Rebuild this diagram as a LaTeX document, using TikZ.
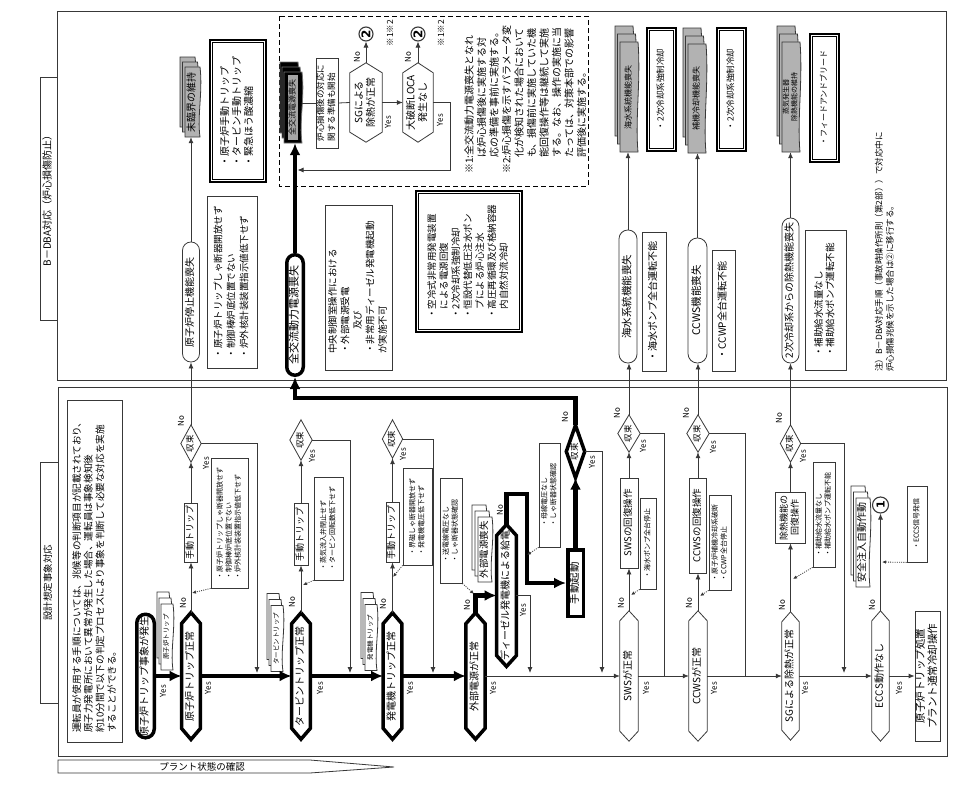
\documentclass[tikz,border=0pt]{standalone}
\usepackage{fontspec}
\setmainfont{Noto Sans CJK JP}
\newfontfamily\dvs{DejaVu Sans}
\usepackage{graphicx}
\usetikzlibrary{arrows.meta}
\definecolor{ln}{gray}{0.22}
\newcommand\fsz[2]{\fontsize{#1}{#2}\selectfont}
\newcommand\RT[2][c]{\rotatebox{90}{\begin{tabular}{@{}#1@{}}#2\end{tabular}}}
\newcommand\hexn[8]{%
  \node[minimum width=#5, minimum height=#6, inner sep=0pt] (#2) at (#3,#4) {#8};
  \draw[#1] (#2.north) -- ([yshift=-#7]#2.north east) -- ([yshift=#7]#2.south east) -- (#2.south) -- ([yshift=#7]#2.south west) -- ([yshift=-#7]#2.north west) -- cycle;}
\newcommand\dian[7]{%
  \node[minimum width=#5, minimum height=#6, inner sep=0pt] (#2) at (#3,#4) {#7};
  \draw[#1] (#2.north) -- (#2.east) -- (#2.south) -- (#2.west) -- cycle;}
% document page with wavy right edge: style, left x, top y, w, h
\newcommand\docpg[5]{%
  \draw[#1] (#2,#3) -- ({#2+#4},#3) .. controls ({#2+#4+3},{#3+0.35*#5}) and ({#2+#4-3},{#3+0.7*#5}) .. ({#2+#4},{#3+#5}) -- (#2,{#3+#5}) -- cycle;}
\newcommand\stk[9]{%
  \docpg{#1}{#3-#5/2-2*#7}{#4-#6/2-2*#8}{#5}{#6}
  \docpg{#1}{#3-#5/2-#7}{#4-#6/2-#8}{#5}{#6}
  \docpg{#1}{#3-#5/2}{#4-#6/2}{#5}{#6}
  \node[minimum width=#5, minimum height=#6, inner sep=0pt] (#2) at (#3,#4) {#9};}
\newcommand\dblin[1]{\draw[line width=0.7pt] ([shift={(3.3pt,-3.3pt)}]#1.north west) rectangle ([shift={(-3.3pt,3.3pt)}]#1.south east);}
\begin{document}
\begin{tikzpicture}[x=1pt, y=-1pt,
 base/.style={line width=0.8pt, draw=ln},
 hx/.style={line width=3.5pt, draw=black},
 thk/.style={line width=4.5pt, draw=black},
 tar/.style={-{Latex[length=6pt,width=5pt]}},
 Tar/.style={-{Latex[length=12pt,width=11pt]}},
 dots/.style={draw=ln, line width=0.8pt, dash pattern=on 1pt off 1.2pt, -{Latex[length=4pt,width=3.5pt]}},
 box/.style={draw=ln, line width=0.8pt, fill=white, inner sep=0pt},
 dbl/.style={draw=black, line width=2.2pt, fill=white, inner sep=0pt},
 stad/.style={box, rounded corners=#1},
 lbl/.style={rotate=90, inner sep=0pt, font=\fsz{8}{9}},
 circ/.style={circle, draw=ln, line width=1.1pt, inner sep=0pt, fill=white}]
\useasboundingbox (0,0) rectangle (954,787);
\fill[white] (0,0) rectangle (954,787);

% panels
\draw[base] (57,11) rectangle (946,380);
\draw[base] (58,387) rectangle (947,756);
\node[box, minimum width=17, minimum height=243, font=\fsz{10}{12}] (lblA) at (48.5,198.5) {\RT{B－DBA対応（炉心損傷防止）}};
\node[box, minimum width=18, minimum height=241, font=\fsz{9.5}{11}] (lblB) at (49,582.5) {\RT{設計想定事象対応}};
\draw[base] (58,760) -- (310,760) -- (394,767) -- (310,773) -- (58,773) -- cycle;
\node[font=\fsz{9.5}{11}, inner sep=0pt] (pst) at (202,767) {プラント状態の確認};

% intro text
\node[box, minimum width=55, minimum height=342] (intro) at (94.5,571) {};
\node[inner sep=0pt, anchor=south, font=\fsz{9.6}{11.7}] (introt) at (95.5,733) {\RT[l]{運転員が使用する手順については、兆候等の判断項目が記載されており、\\原子力発電所において異常が発生した場合、運転員は事象検知後\\約10分間で以下の判定プロセスにより事象を判断して必要な対応を実施\\することができる。}};

% ===== lower panel =====
\node[draw=black, line width=3.5pt, rounded corners=8.7pt, minimum width=17.5, minimum height=123.5, inner sep=0pt, fill=white, font=\fsz{10}{12}] (ev) at (145.5,676) {\RT{原子炉トリップ事象が発生}};

% reactor trip
\stk{base,fill=white}{s1}{167}{637}{12}{66}{2}{6}{\fsz{6.5}{8}\RT{原子炉トリップ}}
\hexn{hx}{h1}{191}{676}{18.5}{126.5}{11pt}{\fsz{10}{12}\RT{原子炉トリップ正常}}
\node[box, minimum width=13, minimum height=59, font=\fsz{9}{11}] (m1) at (191,532.5) {\RT{手動トリップ}};
\dian{base}{d1}{191}{443.5}{20}{37}{\fsz{8.5}{10}\RT{収束}}
\node[box, minimum width=37, minimum height=130, font=\fsz{7}{9}] (n1) at (229.5,523) {\RT[l]{・原子炉トリップしゃ断器開放せず\\・制御棒炉底位置でない\\・炉外核計装装置指示値低下せず}};
\coordinate (j1) at (257,673);
\coordinate (p1) at (192,593);

% turbine trip
\stk{base,fill=white}{s2}{277}{638.5}{12}{66}{2}{6}{\fsz{6.5}{8}\RT{タービントリップ}}
\hexn{hx}{h2}{301}{676}{18.5}{126}{11pt}{\fsz{10}{12}\RT{タービントリップ正常}}
\node[box, minimum width=14, minimum height=62, font=\fsz{9}{11}] (m2) at (301,534) {\RT{手動トリップ}};
\dian{base}{d2}{301}{440}{22}{40}{\fsz{8.5}{10}\RT{収束}}
\node[box, minimum width=29, minimum height=103, font=\fsz{7}{9}] (n2) at (328.5,528.5) {\RT[l]{・蒸気流入弁閉止せず\\・タービン回転数低下せず}};
\coordinate (j2) at (350,673);
\coordinate (p2) at (303,585);

% generator trip
\stk{base,fill=white}{s3}{371}{637.5}{12}{66}{2}{6}{\fsz{6.5}{8}\RT{発電機トリップ}}
\hexn{hx}{h3}{392.5}{676}{18.5}{126}{11pt}{\fsz{10}{12}\RT{発電機トリップ正常}}
\node[box, minimum width=13, minimum height=60, font=\fsz{9}{11}] (m3) at (392.5,532) {\RT{手動トリップ}};
\dian{base}{d3}{392.5}{439}{20}{38}{\fsz{8.5}{10}\RT{収束}}
\node[box, minimum width=29, minimum height=97, font=\fsz{7}{9}] (n3) at (417.5,516.5) {\RT[l]{・界磁しゃ断器開放せず\\・発電機電圧低下せず}};
\coordinate (j3) at (433,673);
\coordinate (p3) at (393,577);

% off-site power
\hexn{hx}{h4}{475.5}{676}{19}{126}{11pt}{\fsz{10}{12}\RT{外部電源が正常}}
\stk{base,fill=white}{s4}{485}{549.5}{14}{65}{3}{6}{\fsz{9.5}{11}\RT{外部電源喪失}}
\node[box, minimum width=22, minimum height=105, font=\fsz{7}{9}] (n4) at (451,530.5) {\RT[l]{・送電線電圧なし\\・しゃ断器状態確認}};
\coordinate (p4) at (474,594);

% diesel
\hexn{hx}{hd}{506.5}{595.5}{19.5}{141.5}{11pt}{\fsz{10}{12}\RT{ディーゼル発電機による給電}}
\node[box, minimum width=21, minimum height=104, font=\fsz{7}{9}] (n5) at (549.5,495) {\RT[l]{・母線電圧なし\\・しゃ断器状態確認}};
\coordinate (p5) at (527,555);
\node[draw=black, line width=3.5pt, minimum width=15.5, minimum height=66.5, inner sep=0pt, fill=white, font=\fsz{10.5}{12}] (mk) at (575.5,583) {\RT{手動起動}};
\dian{hx}{dk}{575.5}{451.5}{18}{52}{\fsz{8.5}{10}\RT{収束}}
\coordinate (kA) at (527,494);
\coordinate (kB) at (295,398);
\coordinate (j4) at (530,673);
\coordinate (j5) at (602,673);

% SWS
\hexn{base}{hs}{629}{676}{18}{130}{10pt}{\fsz{10}{12}\RT{SWSが正常}}
\node[box, minimum width=18, minimum height=90, font=\fsz{9.5}{11}] (bs) at (629,523) {\RT{SWSの回復操作}};
\dian{base}{ds}{629}{433.5}{22}{37}{\fsz{8.5}{10}\RT{収束}}
\node[box, minimum width=16, minimum height=91, font=\fsz{7}{9}] (ns2) at (648,543.5) {\RT{・海水ポンプ全台停止}};
\coordinate (p6) at (631,595);
\coordinate (j6) at (664,676);

% CCWS
\hexn{base}{hc}{698}{676}{18}{130}{10pt}{\fsz{10}{12}\RT{CCWSが正常}}
\node[box, minimum width=17, minimum height=95, font=\fsz{9.5}{11}] (bc) at (698,525.5) {\RT{CCWSの回復操作}};
\dian{base}{dc}{698}{433.5}{22}{37}{\fsz{8.5}{10}\RT{収束}}
\node[box, minimum width=22, minimum height=95, font=\fsz{7}{9}] (nc2) at (720,542.5) {\RT[l]{・原子炉補機冷却系破断\\・CCWP全台停止}};
\coordinate (p7) at (700,596);
\coordinate (j7) at (745,676);

% SG
\hexn{base}{hg}{790.5}{676}{17}{128}{10pt}{\fsz{10}{12}\RT{SGによる除熱が正常}}
\node[box, minimum width=30, minimum height=51, font=\fsz{9}{11}] (bg) at (790.5,517.5) {\RT{除熱機能の\\回復操作}};
\dian{base}{dg}{790.5}{443.5}{20}{37}{\fsz{8.5}{10}\RT{収束}}
\node[box, minimum width=22, minimum height=105, font=\fsz{7}{9}] (ng2) at (824,514.5) {\RT[l]{・補助給水流量なし\\・補助給水ポンプ運転不能}};
\coordinate (p8) at (793,579);
\coordinate (j8) at (844,673);

% ECCS
\hexn{base}{he}{880.5}{676}{17}{130}{10pt}{\fsz{10}{12}\RT{ECCS動作なし}}
\node[circ, minimum size=16] (c1) at (880.5,505) {\dvs\bfseries\fsz{11}{12}\rotatebox{90}{1}};
\stk{base,fill=white}{s5}{863}{542.5}{14}{89}{2.5}{6}{\fsz{10}{12}\RT{安全注入自動作動}}
\node[box, minimum width=20, minimum height=76, font=\fsz{7}{9}] (ne) at (917,524) {\RT{・ECCS信号発信}};
\coordinate (p9) at (882,562);
\node[box, minimum width=25, minimum height=130, font=\fsz{10.5}{11.5}] (fin) at (927.5,676) {\RT{原子炉トリップ処置\\プラント通常冷却操作}};

% ===== upper panel =====
\node[stad=8.4pt, minimum width=17, minimum height=120, font=\fsz{10}{12}] (sb) at (191,302) {\RT{原子炉停止機能喪失}};
\stk{base,fill=black!30}{smir}{192.5}{102}{15}{70}{2.5}{5}{\fsz{10}{12}\RT{未臨界の維持}}
\node[box, minimum width=50, minimum height=172, font=\fsz{9.5}{13}] (nt1) at (232,282) {\RT[l]{・原子炉トリップしゃ断器開放せず\\・制御棒炉底位置でない\\・炉外核計装装置指示値低下せず}};
\node[dbl, minimum width=56, minimum height=142, font=\fsz{10}{12}] (db1) at (238,111) {\RT[l]{・原子炉手動トリップ\\・タービン手動トリップ\\・緊急ほう酸濃縮}};
\dblin{db1}
\node[draw=black, line width=3.5pt, rounded corners=8.2pt, minimum width=16.5, minimum height=120.5, inner sep=0pt, fill=white, font=\fsz{11}{12}] (acl) at (295,315) {\RT{全交流動力電源喪失}};
\node[box, minimum width=67, minimum height=165, font=\fsz{9.5}{12.5}] (nacl) at (358.5,287.5) {\RT[l]{中央制御室操作における\\・外部電源受電\\\hspace{2.5em}及び\\・非常用ディーゼル発電機起動\\が実施不可}};
\node[dbl, minimum width=106, minimum height=141, font=\fsz{9.5}{12}] (db2) at (469,261.5) {\RT[l]{・空冷式非常用発電装置\\\hspace{1em}による電源回復\\・2次冷却系強制冷却\\・恒設代替低圧注水ポン\\\hspace{1em}プによる炉心注水\\・高圧再循環及び格納容器\\\hspace{1em}内自然対流冷却}};
\dblin{db2}

% dashed region
\draw[line width=0.9pt, draw=black, dash pattern=on 5pt off 3pt] (279,16) rectangle (588,186);
\stk{draw=black!55, fill=black, line width=0.8pt}{blk}{293}{107.5}{18}{71}{2}{5}{}
\node[fill=black!35, inner sep=0pt, minimum width=10, minimum height=65, font=\fsz{8}{9}] (blkt) at (blk) {\RT{全交流電源喪失}};
\node[box, minimum width=22, minimum height=90, font=\fsz{8.5}{11}] (pb) at (327,103) {\RT[l]{炉心損傷後の対応に\\関する準備も開始}};
\hexn{base}{hsg}{366}{102.5}{32}{79}{10pt}{\fsz{10}{12}\RT{SGによる\\除熱が正常}}
\hexn{base}{hloca}{418}{102.5}{30}{79}{10pt}{\fsz{10}{12}\RT{大破断LOCA\\発生なし}}
\node[circ, minimum size=14] (c2a) at (366,34) {\dvs\bfseries\fsz{12}{12}\rotatebox{90}{2}};
\node[circ, minimum size=14] (c2b) at (418,34) {\dvs\bfseries\fsz{12}{12}\rotatebox{90}{2}};
\node[lbl, font=\fsz{8.5}{10}] (r1) at (390,33) {※1※2};
\node[lbl, font=\fsz{8.5}{10}] (r2) at (441,33) {※1※2};
\coordinate (kC) at (450,170);
\coordinate (kD) at (297.5,170);
\node[inner sep=0pt, anchor=south, font=\fsz{10}{12.5}] (notes) at (526.5,174) {\RT[l]{※1:全交流動力電源喪失となれ\\\hspace{1.6em}ば炉心損傷後に実施する対\\\hspace{1.6em}応の準備を事前に実施する。\\※2:炉心損傷を示すパラメータ変\\\hspace{1.6em}化が検知された場合において\\\hspace{1.6em}も、損傷前に実施していた機\\\hspace{1.6em}能回復操作等は継続して実施\\\hspace{1.6em}する。なお、操作の実施に当\\\hspace{1.6em}たっては、対策本部での影響\\\hspace{1.6em}評価後に実施する。}};

% right side upper
\node[stad=8.8pt, minimum width=18, minimum height=133, font=\fsz{10.5}{12}] (stsws) at (628,296.5) {\RT{海水系統機能喪失}};
\stk{base,fill=black!30}{ssws}{629}{97}{18}{110}{2.5}{8}{\fsz{8}{10}\RT{海水系統機能喪失}}
\node[dbl, minimum width=29, minimum height=123, font=\fsz{8.5}{10}] (db3) at (661.5,89.5) {\RT{・2次冷却系強制冷却}};
\dblin{db3}
\node[box, minimum width=24, minimum height=139, font=\fsz{10}{12}] (ns1) at (654,301.5) {\RT{・海水ポンプ全台運転不能}};

\node[stad=9.3pt, minimum width=19, minimum height=125, font=\fsz{10.5}{12}] (stccw) at (697.5,300.5) {\RT{CCWS機能喪失}};
\stk{base,fill=black!30}{sccw}{697}{98.5}{18}{109}{2.5}{8}{\fsz{8}{10}\RT{補機冷却機能喪失}}
\node[dbl, minimum width=29, minimum height=123, font=\fsz{8.5}{10}] (db4) at (731.5,89.5) {\RT{・2次冷却系強制冷却}};
\dblin{db4}
\node[box, minimum width=23, minimum height=121, font=\fsz{10}{12}] (nc1) at (723.5,310.5) {\RT{・CCWP全台運転不能}};

\node[stad=8.4pt, minimum width=17, minimum height=145, font=\fsz{10}{12}] (stsg) at (790.5,290.5) {\RT{2次冷却系からの除熱機能喪失}};
\stk{base,fill=black!30}{ssg}{791}{97}{18}{110}{2.5}{8}{\fsz{7}{8}\RT{蒸気発生器\\除熱機能の維持}}
\node[dbl, minimum width=29, minimum height=128, font=\fsz{8}{10}] (db5) at (824.5,98) {\RT{・フィードアンドブリード}};
\dblin{db5}
\node[box, minimum width=41, minimum height=140, font=\fsz{9.5}{11}] (nsg) at (825.5,300) {\RT[l]{・補助給水流量なし\\・補助給水ポンプ運転不能}};
\node[inner sep=0pt, anchor=south, font=\fsz{8.5}{11}] (fn) at (885.5,372) {\RT[l]{注）B－DBA対応手順（事故時操作所則（第2部））で対応中に\\炉心損傷兆候を示した場合は②に移行する。}};

% ===== connectors =====
\draw[thk,Tar] (ev.east) -- (h1.west);
\draw[thk,Tar] (h1.east) -- (h2.west);
\draw[thk,Tar] (h2.east) -- (h3.west);
\draw[thk,Tar] (h3.east) -- (h4.west);
\draw[base,tar] (h4.east) -- (hs.west);
\draw[base,tar] (hs.east) -- (hc.west);
\draw[base,tar] (hc.east) -- (hg.west);
\draw[base,tar] (hg.east) -- (he.west);
\draw[base,tar] (he.east) -- (fin.west);

\draw[base,tar] (h1.north) -- (m1.south);
\draw[base,tar] (m1.north) -- (d1.south);
\draw[base,tar] (d1.north) -- (sb.south);
\draw[base,tar] (d1.east) -| (j1);
\draw[dots] (n1.south west) -- (p1);

\draw[base,tar] (h2.north) -- (m2.south);
\draw[base,tar] (m2.north) -- (d2.south);
\draw[base,tar] (d2.east) -| (j2);
\draw[dots] (n2.south west) -- (p2);

\draw[base,tar] (h3.north) -- (m3.south);
\draw[base,tar] (m3.north) -- (d3.south);
\draw[base,tar] (d3.east) -| (j3);
\draw[dots] (n3.south west) -- (p3);

\draw[thk,Tar] (h4.north) |- (hd.west);
\draw[dots] (n4.south east) -- (p4);
\draw[thk,Tar] (hd.north) |- (kA) -- (kA |- mk.west) -- (mk.west);
\draw[base,tar] (hd.east) -| (j4);
\draw[dots] (n5.south west) -- (p5);
\draw[thk,Tar] (mk.north) -- (dk.south);
\draw[thk,Tar] (dk.north) |- (kB) -- (acl.south);
\draw[base,tar] (dk.east) -| (j5);

\draw[base,tar] (hs.north) -- (bs.south);
\draw[base,tar] (bs.north) -- (ds.south);
\draw[base,tar] (ds.north) -- (ds.north |- stsws.south);
\draw[base] (ds.east) -| (j6);
\draw[dots] (ns2.south west) -- (p6);

\draw[base,tar] (hc.north) -- (bc.south);
\draw[base,tar] (bc.north) -- (dc.south);
\draw[base,tar] (dc.north) -- (dc.north |- stccw.south);
\draw[base] (dc.east) -| (j7);
\draw[dots] (nc2.south west) -- (p7);

\draw[base,tar] (hg.north) -- (bg.south);
\draw[base,tar] (bg.north) -- (dg.south);
\draw[base,tar] (dg.north) -- (dg.north |- stsg.south);
\draw[base,tar] (dg.east) -| (j8);
\draw[dots] (ng2.south west) -- (p8);

\draw[base,tar] (he.north) -- (c1.south);
\draw[dots] (ne.south west) -- (p9);

\draw[base,tar] (sb.north) -- (sb.north |- smir.south);
\draw[thk,Tar] (acl.north) -- (acl.north |- blk.south);
\draw[base] (blk.east |- pb.west) -- (pb.west);
\draw[base] (pb.east) -- (hsg.west);
\draw[base,tar] (hsg.east) -- (hloca.west);
\draw[base,tar] (hsg.north) -- (hsg.north |- c2a.south);
\draw[base,tar] (hloca.north) -- (hloca.north |- c2b.south);
\draw[base,tar] (hloca.east) -| (kC) -- (kD);

\draw[base,tar] (stsws.north) -- (stsws.north |- ssws.south);
\draw[base,tar] (stccw.north) -- (stccw.north |- sccw.south);
\draw[base,tar] (stsg.north) -- (stsg.north |- ssg.south);

% ===== Yes / No labels =====
\node[lbl] (y0) at (163,691) {Yes};
\node[lbl] (y1) at (208,688) {Yes};
\node[lbl] (no1) at (183,603) {No};
\node[lbl] (yd1) at (206,463) {Yes};
\node[lbl] (nd1) at (181,421) {No};
\node[lbl] (y2) at (320,688) {Yes};
\node[lbl] (no2) at (292,602) {No};
\node[lbl] (yd2) at (312,456) {Yes};
\node[lbl] (y3) at (410,688) {Yes};
\node[lbl] (no3) at (383,604) {No};
\node[lbl] (yd3) at (403,454) {Yes};
\node[lbl] (y4) at (493,688) {Yes};
\node[lbl] (no4) at (467,605) {No};
\node[lbl] (ydd) at (523,610) {Yes};
\node[lbl] (ndd) at (500,510) {No};
\node[lbl] (ndk) at (565,417) {No};
\node[lbl] (ydk) at (592,462) {Yes};
\node[lbl] (nds) at (617,413) {No};
\node[lbl] (yds) at (643,446) {Yes};
\node[lbl] (nhs) at (621,603) {No};
\node[lbl] (yhs) at (646,688) {Yes};
\node[lbl] (ndc) at (686,413) {No};
\node[lbl] (ydc) at (713,447) {Yes};
\node[lbl] (nhc) at (689,603) {No};
\node[lbl] (yhc) at (714,688) {Yes};
\node[lbl] (ndg) at (779,418) {No};
\node[lbl] (ydg) at (803,456) {Yes};
\node[lbl] (nhg) at (782,605) {No};
\node[lbl] (yhg) at (805,688) {Yes};
\node[lbl] (nhe) at (872,605) {No};
\node[lbl] (yhe) at (899,688) {Yes};
\node[lbl] (nsg1) at (357,57) {No};
\node[lbl] (ysg1) at (388,122) {Yes};
\node[lbl] (nlo) at (408,57) {No};
\node[lbl] (ylo) at (440,120) {Yes};
\end{tikzpicture}
\end{document}
